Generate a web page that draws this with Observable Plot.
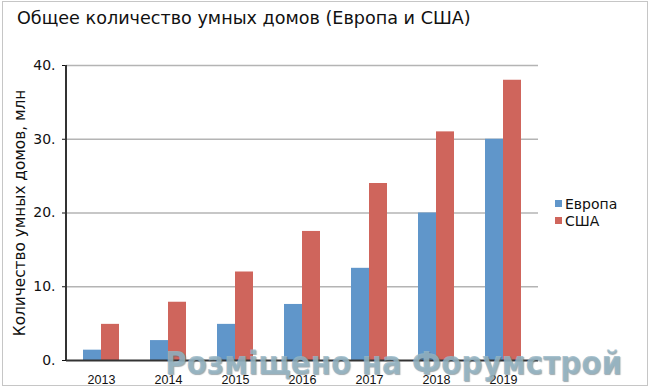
<!DOCTYPE html>
<html>
<head>
<meta charset="utf-8">
<script src="https://cdn.jsdelivr.net/npm/d3@7"></script>
<script src="https://cdn.jsdelivr.net/npm/@observablehq/plot@0.6"></script>
<style>
  html, body { margin: 0; padding: 0; background: #fff; }
  #wrap { position: relative; width: 650px; height: 391px; overflow: hidden; font-family: "DejaVu Sans", Verdana, sans-serif; }
  #frame { position: absolute; left: 2px; top: 1px; width: 646px; height: 385px; border: 1px solid #c6c6c6; box-sizing: border-box; }
  #title { position: absolute; left: 17px; top: 8px; font-size: 17.6px; color: #111; white-space: nowrap; }
  #chart { position: absolute; left: 0; top: 0; }
  #legend { position: absolute; left: 555px; top: 195px; font-size: 14px; color: #111; }
  #legend div { display: flex; align-items: center; height: 17px; }
  #legend span.sw { display: inline-block; width: 7px; height: 7px; margin-right: 3px; }
  #wm { position: absolute; left: 165px; top: 347px; font: bold 32px/1 "DejaVu Sans", sans-serif; color: rgba(150,182,197,0.82); text-shadow: 1px 1px 1px rgba(80,100,110,0.55); white-space: nowrap; transform: scaleX(0.92); transform-origin: 0 0; }
  g[aria-label="y-axis tick label"] text { font-size: 14px; }
  g[aria-label="x-axis tick label"] text { font-size: 12.5px; font-family: "Liberation Sans", sans-serif; }
</style>
</head>
<body>
<div id="wrap">
  <div id="frame"></div>
  <div id="chart"></div>
  <div id="title"></div>
  <div id="legend"></div>
  <div id="wm"></div>
</div>
<script>
const titleText = "Общее количество умных домов (Европа и США)";
const yLabel = "Количество умных домов, млн";
const years = ["2013", "2014", "2015", "2016", "2017", "2018", "2019"];
const seriesNames = ["Европа", "США"];
const europe = [1.4, 2.7, 4.9, 7.6, 12.5, 20, 30];
const usa = [4.9, 7.9, 12, 17.5, 24, 31, 38];
const yTicks = [0, 10, 20, 30, 40];
const colors = ["#6096ca", "#cf655c"];
const watermark = "Розміщено на Форумстрой";

const eu = years.map((y, i) => ({year: y, value: europe[i], series: seriesNames[0]}));
const us = years.map((y, i) => ({year: y, value: usa[i], series: seriesNames[1]}));

// left axis line drawn from the y scale
function leftAxisLine(index, scales, values, dimensions) {
  const y = scales.y;
  const x0 = dimensions.marginLeft;
  const line = d3.create("svg:line")
    .attr("x1", x0).attr("x2", x0)
    .attr("y1", y(d3.max(yTicks))).attr("y2", y(0))
    .attr("stroke", "#333").attr("stroke-width", 2);
  return line.node();
}

const plot = Plot.plot({
  width: 650,
  height: 391,
  marginLeft: 66,
  marginRight: 112,
  marginTop: 65,
  marginBottom: 31,
  style: {fontFamily: "DejaVu Sans, sans-serif", color: "#111", background: "transparent"},
  x: {domain: years, paddingInner: 0.467, paddingOuter: 0.207, tickSize: 0, tickPadding: 15, label: null},
  y: {domain: [0, 40], ticks: yTicks, tickFormat: d => d + ".", tickSize: 4, tickPadding: 7, label: null},
  color: {domain: seriesNames, range: colors},
  marks: [
    Plot.gridY(yTicks.filter(d => d > 0), {stroke: "#b4b4b4", strokeOpacity: 1, strokeWidth: 1.5}),
    Plot.barY(eu, {x: "year", y: "value", fill: "series", insetRight: 18, insetLeft: 0}),
    Plot.barY(us, {x: "year", y: "value", fill: "series", insetLeft: 18, insetRight: 0}),
    Plot.ruleY([0], {stroke: "#333", strokeWidth: 2}),
    leftAxisLine,
    Plot.text([yLabel], {frameAnchor: "left", textAnchor: "middle", rotate: -90, dx: -46, fontSize: 15.3, fill: "#111"})
  ]
});
document.getElementById("chart").appendChild(plot);
document.getElementById("title").textContent = titleText;
document.getElementById("wm").textContent = watermark;
const leg = document.getElementById("legend");
seriesNames.forEach((s, i) => {
  const d = document.createElement("div");
  const sw = document.createElement("span");
  sw.className = "sw";
  sw.style.background = colors[i];
  d.appendChild(sw);
  d.appendChild(document.createTextNode(s));
  leg.appendChild(d);
});
</script>
</body>
</html>
